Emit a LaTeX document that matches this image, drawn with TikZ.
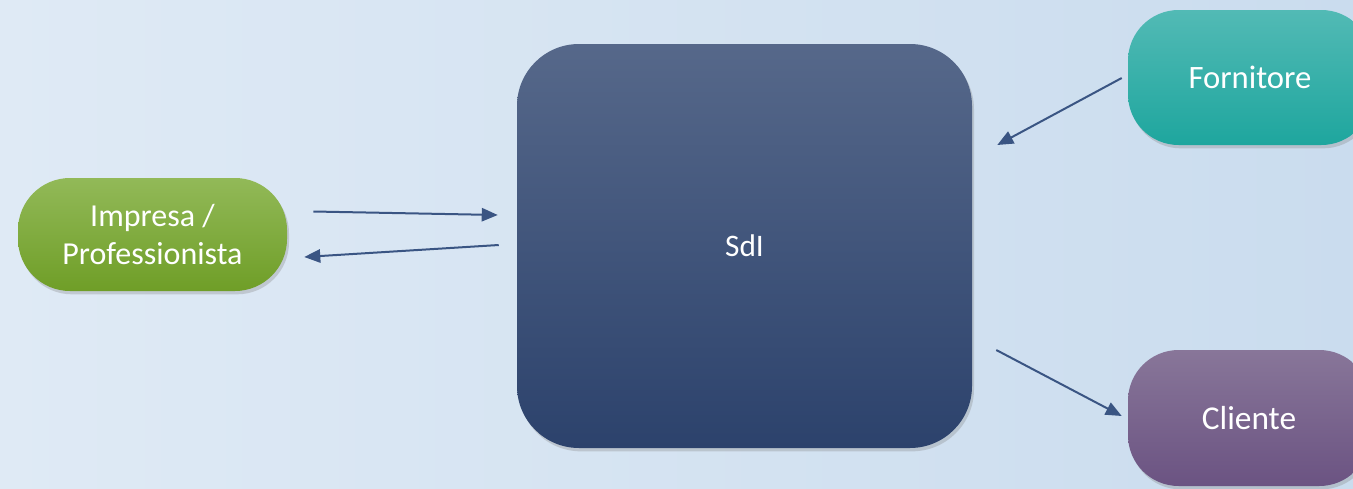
\documentclass[tikz,border=0pt]{standalone}
\usepackage{fontspec}
\setmainfont{Carlito}
\usetikzlibrary{arrows.meta,calc,shadows}

\definecolor{bgleft}{HTML}{DFEAF5}
\definecolor{bgright}{HTML}{CADCEE}
\definecolor{flowblue}{HTML}{3A5583}
\definecolor{sdtop}{HTML}{56688A}
\definecolor{sdbottom}{HTML}{2C426C}
\definecolor{imptop}{HTML}{92B958}
\definecolor{impbottom}{HTML}{6F9E27}
\definecolor{fortop}{HTML}{52BAB5}
\definecolor{forbottom}{HTML}{1EA69E}
\definecolor{clitop}{HTML}{887699}
\definecolor{clibottom}{HTML}{6B5382}

\begin{document}
\begin{tikzpicture}[
                        x=0.75pt, y=-0.75pt,
                        block/.style={rectangle, text=white, align=center,
                            drop shadow={opacity=0.3, shadow xshift=1.5pt, shadow yshift=-2.5pt}},
                        flow/.style={-{Triangle[length=12pt, width=10pt]}, line width=1.5pt, draw=flowblue}
                    ]
                    % Background
                    \clip (0,0) rectangle (1353,489);
                    \shade[left color=bgleft, right color=bgright] (0,0) rectangle (1353,489);

                    % Blocks
                    \node [block, rounded corners=39pt, minimum width=201.75pt, minimum height=84.75pt,
                           top color=imptop, bottom color=impbottom,
                           font=\fontsize{24}{28.5}\selectfont] (impresa) at (152.5,234.5) {Impresa /\\Professionista};
                    \node [block, rounded corners=46.5pt, minimum width=341.25pt, minimum height=303pt,
                           top color=sdtop, bottom color=sdbottom,
                           font=\fontsize{23.5}{28}\selectfont] (sdi) at (744.5,246) {SdI};
                    \node [block, rounded corners=38pt, minimum width=183pt, minimum height=101.25pt,
                           top color=fortop, bottom color=forbottom,
                           font=\fontsize{24.5}{28}\selectfont] (fornitore) at (1250,77.5) {Fornitore};
                    \node [block, rounded corners=38pt, minimum width=181.5pt, minimum height=102pt,
                           top color=clitop, bottom color=clibottom,
                           font=\fontsize{25}{28}\selectfont] (cliente) at (1249,418) {Cliente};

                    % Connections
                    \draw [flow] ($(impresa.east)+(26,-23)$) -- ($(sdi.west)+(-19,-31)$);
                    \draw [flow] ($(sdi.west)+(-18,-1)$) -- ($(impresa.east)+(17,22.5)$);
                    \draw [flow] ($(fornitore.west)+(-6,0.5)$) -- ($(sdi.east)+(25,-101)$);
                    \draw [flow] ($(sdi.east)+(24,104)$) -- ($(cliente.west)+(-6,-2)$);
                \end{tikzpicture}
\end{document}
